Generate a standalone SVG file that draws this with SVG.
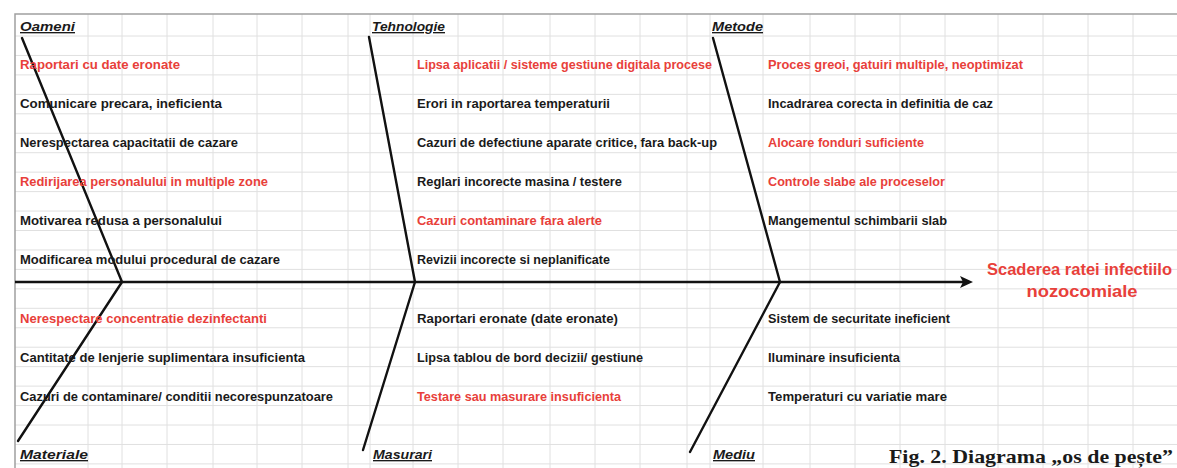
<svg xmlns="http://www.w3.org/2000/svg" width="1177" height="468" viewBox="0 0 1177 468">
<style>
  .grid{stroke:#e0e0e0;stroke-width:1;fill:none}
  .frame{stroke:#a0a0a0;stroke-width:1.5;fill:none}
  .bone{stroke:#111;stroke-width:2.4;fill:none;stroke-linecap:round}
  .it{font-family:"Liberation Sans",Arial,sans-serif;font-weight:bold;font-size:13px;fill:#1a1a1a}
  .red{fill:#e8403a}
  .cat{font-family:"Liberation Sans",Arial,sans-serif;font-weight:bold;font-style:italic;font-size:13.5px;fill:#1a1a1a;text-decoration:underline}
  .eff{font-family:"Liberation Sans",Arial,sans-serif;font-weight:bold;font-size:16.5px;fill:#e8403a}
  .cap{font-family:"Liberation Serif","Times New Roman",serif;font-weight:bold;font-size:19px;fill:#1a1a1a}
</style>
<defs>
  <marker id="arr" viewBox="0 0 13 12" refX="5" refY="6" markerWidth="13" markerHeight="12" markerUnits="userSpaceOnUse" orient="auto">
    <path d="M0,0 L13,6 L0,12 L3,6 z" fill="#111"/>
  </marker>
</defs>
<rect width="1177" height="468" fill="#fff"/>
<g id="grid">
  <path class="grid" d="M15,36H1177 M15,55.45H1177 M15,74.9H1177 M15,94.35H1177 M15,113.8H1177 M15,133.25H1177 M15,152.7H1177 M15,172.15H1177 M15,191.6H1177 M15,211.05H1177 M15,230.5H1177 M15,249.95H1177 M15,269.4H1177 M15,288.85H1177 M15,308.3H1177 M15,327.75H1177 M15,347.2H1177 M15,366.65H1177 M15,386.1H1177 M15,405.55H1177 M15,425H1177 M15,444.45H1177 M15,463.9H1177"/>
  <path class="grid" d="M88,14V468 M122,14V468 M167,14V468 M213,14V468 M257,14V468 M302,14V468 M348,14V468 M370,14V468 M413,14V468 M458,14V468 M503,14V468 M550,14V468 M595,14V468 M640,14V468 M687,14V468 M710,14V468 M763,14V468 M810,14V468 M855,14V468 M900,14V468 M945,14V468 M998,14V468 M1043,14V468 M1088,14V468 M1133,14V468"/>
  <path class="frame" d="M15,468V14H1177"/>
</g>
<g id="connectors">
  <line class="bone" x1="15" y1="282" x2="965" y2="282" marker-end="url(#arr)" style="stroke-linecap:butt"/>
  <line class="bone" x1="22" y1="38" x2="122" y2="282"/>
  <line class="bone" x1="122" y1="282" x2="18" y2="441"/>
  <line class="bone" x1="369" y1="37" x2="415" y2="282"/>
  <line class="bone" x1="415" y1="282" x2="363" y2="450"/>
  <line class="bone" x1="713" y1="38" x2="780" y2="282"/>
  <line class="bone" x1="780" y1="282" x2="690" y2="452"/>
</g>
<g id="oameni">
  <text class="cat" x="20" y="31" textLength="55" lengthAdjust="spacingAndGlyphs">Oameni</text>
  <text class="it red" x="20" y="69" textLength="160" lengthAdjust="spacingAndGlyphs">Raportari cu date eronate</text>
  <text class="it" x="20" y="108" textLength="202" lengthAdjust="spacingAndGlyphs">Comunicare precara, ineficienta</text>
  <text class="it" x="20" y="147" textLength="218" lengthAdjust="spacingAndGlyphs">Nerespectarea capacitatii de cazare</text>
  <text class="it red" x="20" y="186" textLength="248" lengthAdjust="spacingAndGlyphs">Redirijarea personalului in multiple zone</text>
  <text class="it" x="20" y="225" textLength="202" lengthAdjust="spacingAndGlyphs">Motivarea redusa a personalului</text>
  <text class="it" x="20" y="264" textLength="260" lengthAdjust="spacingAndGlyphs">Modificarea modului procedural de cazare</text>
</g>
<g id="tehnologie">
  <text class="cat" x="372" y="31" textLength="73" lengthAdjust="spacingAndGlyphs">Tehnologie</text>
  <text class="it red" x="417" y="69" textLength="295" lengthAdjust="spacingAndGlyphs">Lipsa aplicatii / sisteme gestiune digitala procese</text>
  <text class="it" x="417" y="108" textLength="193" lengthAdjust="spacingAndGlyphs">Erori in raportarea temperaturii</text>
  <text class="it" x="417" y="147" textLength="300" lengthAdjust="spacingAndGlyphs">Cazuri de defectiune aparate critice, fara back-up</text>
  <text class="it" x="417" y="186" textLength="205" lengthAdjust="spacingAndGlyphs">Reglari incorecte masina / testere</text>
  <text class="it red" x="417" y="225" textLength="185" lengthAdjust="spacingAndGlyphs">Cazuri contaminare fara alerte</text>
  <text class="it" x="417" y="264" textLength="193" lengthAdjust="spacingAndGlyphs">Revizii incorecte si neplanificate</text>
</g>
<g id="metode">
  <text class="cat" x="712" y="31" textLength="51" lengthAdjust="spacingAndGlyphs">Metode</text>
  <text class="it red" x="768" y="69" textLength="255" lengthAdjust="spacingAndGlyphs">Proces greoi, gatuiri multiple, neoptimizat</text>
  <text class="it" x="768" y="108" textLength="225" lengthAdjust="spacingAndGlyphs">Incadrarea corecta in definitia de caz</text>
  <text class="it red" x="768" y="147" textLength="156" lengthAdjust="spacingAndGlyphs">Alocare fonduri suficiente</text>
  <text class="it red" x="768" y="186" textLength="177" lengthAdjust="spacingAndGlyphs">Controle slabe ale proceselor</text>
  <text class="it" x="768" y="225" textLength="179" lengthAdjust="spacingAndGlyphs">Mangementul schimbarii slab</text>
</g>
<g id="materiale">
  <text class="it red" x="20" y="323" textLength="247" lengthAdjust="spacingAndGlyphs">Nerespectare concentratie dezinfectanti</text>
  <text class="it" x="20" y="362" textLength="285" lengthAdjust="spacingAndGlyphs">Cantitate de lenjerie suplimentara insuficienta</text>
  <text class="it" x="20" y="401" textLength="313" lengthAdjust="spacingAndGlyphs">Cazuri de contaminare/ conditii necorespunzatoare</text>
  <text class="cat" x="20" y="459" textLength="68" lengthAdjust="spacingAndGlyphs">Materiale</text>
</g>
<g id="masurari">
  <text class="it" x="417" y="323" textLength="201" lengthAdjust="spacingAndGlyphs">Raportari eronate (date eronate)</text>
  <text class="it" x="417" y="362" textLength="226" lengthAdjust="spacingAndGlyphs">Lipsa tablou de bord decizii/ gestiune</text>
  <text class="it red" x="417" y="401" textLength="204" lengthAdjust="spacingAndGlyphs">Testare sau masurare insuficienta</text>
  <text class="cat" x="373" y="459" textLength="59" lengthAdjust="spacingAndGlyphs">Masurari</text>
</g>
<g id="mediu">
  <text class="it" x="768" y="323" textLength="182" lengthAdjust="spacingAndGlyphs">Sistem de securitate ineficient</text>
  <text class="it" x="768" y="362" textLength="132" lengthAdjust="spacingAndGlyphs">Iluminare insuficienta</text>
  <text class="it" x="768" y="401" textLength="179" lengthAdjust="spacingAndGlyphs">Temperaturi cu variatie mare</text>
  <text class="cat" x="713" y="459" textLength="42" lengthAdjust="spacingAndGlyphs">Mediu</text>
</g>
<g id="effect">
  <text class="eff" x="987" y="275" textLength="185" lengthAdjust="spacingAndGlyphs">Scaderea ratei infectiilo</text>
  <text class="eff" x="1082" y="297" text-anchor="middle" textLength="111" lengthAdjust="spacingAndGlyphs">nozocomiale</text>
</g>
<g id="caption">
  <text class="cap" x="889" y="463" textLength="284" lengthAdjust="spacingAndGlyphs">Fig. 2. Diagrama „os de pește”</text>
</g>
</svg>
